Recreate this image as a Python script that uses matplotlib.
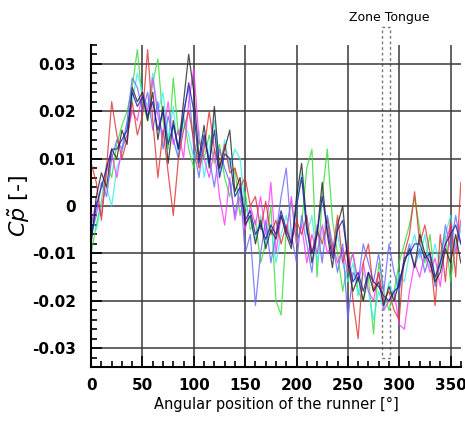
import numpy as np
import matplotlib.pyplot as plt
from matplotlib.patches import Rectangle
from matplotlib.ticker import MultipleLocator

# angular position [deg], one value every 5 deg
angle = np.arange(0, 361, 5)

cp_black = [-0.008, 0.002, 0.007, 0.004, 0.012, 0.010, 0.016, 0.013, 0.025, 0.022,
            0.024, 0.018, 0.024, 0.014, 0.021, 0.009, 0.018, 0.012, 0.022, 0.032,
            0.024, 0.010, 0.017, 0.008, 0.021, 0.008, 0.012, 0.016, 0.003, 0.006,
            -0.004, -0.002, -0.008, -0.003, -0.009, -0.005, -0.007, -0.002, -0.006, -0.009,
            0.002, 0.009, -0.004, -0.012, -0.006, 0.005, -0.006, -0.013, -0.004, 0.000,
            -0.012, -0.018, -0.015, -0.020, -0.014, -0.018, -0.016, -0.021, -0.017, -0.020,
            -0.016, -0.012, -0.009, -0.013, -0.006, -0.010, -0.012, -0.016, -0.014, -0.009,
            -0.012, -0.006, -0.012]
cp_red = [0.009, 0.005, -0.003, 0.008, 0.022, 0.015, 0.010, 0.014, 0.022, 0.015,
          0.019, 0.033, 0.018, 0.006, 0.016, 0.007, -0.002, 0.010, 0.016, 0.020,
          0.014, 0.008, 0.012, 0.020, 0.012, 0.008, 0.013, 0.007, 0.008, 0.004,
          0.006, 0.000, 0.002, -0.005, 0.001, -0.006, -0.003, -0.008, -0.004, -0.008,
          -0.003, -0.006, -0.002, -0.010, -0.005, -0.008, -0.003, -0.010, -0.002, -0.012,
          -0.008, -0.020, -0.028, -0.012, -0.008, -0.018, -0.014, -0.020, -0.018, -0.022,
          -0.024, -0.010, -0.006, 0.003, -0.008, -0.004, -0.010, -0.021, -0.006, -0.016,
          -0.003, -0.015, 0.005]
cp_green = [-0.010, -0.004, 0.001, 0.009, 0.006, 0.013, 0.017, 0.020, 0.025, 0.033,
            0.022, 0.018, 0.026, 0.031, 0.018, 0.012, 0.027, 0.015, 0.019, 0.012,
            0.008, 0.014, 0.010, 0.015, 0.009, 0.013, 0.006, 0.002, 0.008, -0.002,
            0.003, -0.005, -0.003, -0.012, -0.008, 0.000, -0.020, -0.023, -0.005, 0.001,
            -0.008, -0.004, 0.008, 0.012, -0.015, 0.002, 0.012, -0.003, -0.010, -0.018,
            -0.012, -0.010, -0.018, -0.020, -0.015, -0.027, -0.012, -0.018, -0.022, -0.018,
            -0.012, -0.008, -0.004, 0.002, -0.005, -0.012, -0.006, -0.016, -0.010, -0.006,
            -0.016, -0.008, -0.004]
cp_blue = [-0.006, -0.002, 0.005, 0.002, 0.010, 0.014, 0.012, 0.018, 0.027, 0.025,
           0.020, 0.024, 0.016, 0.022, 0.012, 0.019, 0.014, 0.010, 0.020, 0.025,
           0.012, 0.006, 0.014, 0.010, 0.004, 0.012, 0.008, 0.005, -0.002, 0.004,
           -0.010, -0.006, -0.021, -0.010, -0.003, -0.012, -0.006, 0.002, 0.008, -0.006,
           -0.012, -0.002, -0.008, -0.014, -0.004, -0.012, -0.002, -0.008, -0.014, -0.008,
           -0.024, -0.014, -0.016, -0.008, -0.012, -0.016, -0.010, -0.018, -0.008, -0.014,
           -0.018, -0.012, -0.008, -0.013, -0.009, -0.014, -0.010, -0.017, -0.012, -0.004,
           -0.009, -0.002, -0.008]
cp_magenta = [-0.004, 0.001, -0.002, 0.007, 0.011, 0.006, 0.012, 0.015, 0.020, 0.018,
              0.024, 0.020, 0.027, 0.019, 0.015, 0.022, 0.013, 0.016, 0.010, 0.022,
              0.029, 0.014, 0.010, 0.006, 0.012, 0.002, -0.004, 0.006, -0.003, 0.002,
              -0.005, 0.000, -0.004, 0.002, -0.006, 0.005, -0.010, -0.002, -0.006, 0.002,
              -0.008, -0.004, -0.012, -0.006, -0.010, -0.004, -0.010, -0.008, -0.012, -0.009,
              -0.014, -0.010, -0.016, -0.012, -0.018, -0.020, -0.014, -0.022, -0.020, -0.018,
              -0.025, -0.026, -0.018, -0.012, -0.015, -0.010, -0.014, -0.011, -0.017, -0.008,
              -0.004, -0.010, -0.003]
cp_cyan = [-0.002, -0.005, 0.000, 0.004, 0.000, 0.008, 0.011, 0.017, 0.022, 0.028,
           0.024, 0.021, 0.028, 0.020, 0.024, 0.014, 0.021, 0.010, 0.018, 0.015,
           0.010, 0.016, 0.006, 0.012, 0.018, 0.007, 0.014, 0.008, 0.012, 0.010,
           0.000, -0.003, -0.007, -0.002, -0.008, -0.004, -0.012, -0.006, -0.002, -0.008,
           0.000, 0.007, -0.006, -0.002, -0.012, -0.006, -0.002, -0.010, -0.006, -0.012,
           -0.016, -0.012, -0.019, -0.014, -0.018, -0.024, -0.018, -0.022, -0.016, -0.019,
           -0.014, -0.016, -0.010, -0.006, -0.011, -0.006, -0.013, -0.008, -0.013, -0.006,
           -0.002, -0.009, -0.005]
cp_navy = [-0.007, 0.000, 0.004, 0.008, 0.012, 0.012, 0.014, 0.016, 0.024, 0.021,
           0.023, 0.019, 0.022, 0.016, 0.020, 0.013, 0.017, 0.012, 0.019, 0.026,
           0.020, 0.009, 0.015, 0.009, 0.016, 0.006, 0.011, 0.010, 0.002, 0.004,
           -0.003, -0.001, -0.006, -0.004, -0.007, -0.004, -0.006, -0.001, -0.005, -0.008,
           0.000, 0.006, -0.005, -0.010, -0.006, 0.002, -0.005, -0.011, -0.005, -0.003,
           -0.011, -0.016, -0.014, -0.018, -0.014, -0.016, -0.017, -0.019, -0.020, -0.018,
           -0.017, -0.011, -0.010, -0.008, -0.008, -0.011, -0.010, -0.015, -0.012, -0.008,
           -0.006, -0.004, -0.008]

series = [
    (cp_green, "#33dd33"),
    (cp_cyan, "#33eeee"),
    (cp_magenta, "#ff33ff"),
    (cp_blue, "#6666ff"),
    (cp_red, "#e03030"),
    (cp_black, "#222222"),
    (cp_navy, "#1a1aa0"),
]

fig = plt.figure(figsize=(4.65, 4.23), dpi=100)
ax = fig.add_axes([0.196, 0.132, 0.795, 0.762])

for vals, col in series:
    ax.plot(angle, vals, color=col, lw=0.9, alpha=0.8)

ax.set_xlim(0, 360)
ax.set_ylim(-0.034, 0.034)
ax.xaxis.set_major_locator(MultipleLocator(50))
ax.xaxis.set_minor_locator(MultipleLocator(10))
ax.yaxis.set_minor_locator(MultipleLocator(0.002))
ax.set_yticks([-0.03, -0.02, -0.01, 0, 0.01, 0.02, 0.03])
ax.set_yticklabels(["-0.03", "-0.02", "-0.01", "0", "0.01", "0.02", "0.03"])

ax.grid(True, which="major", color="#3a3a3a", lw=1.3, alpha=0.85)
ax.tick_params(which="both", direction="in", labelsize=11, width=1.2)
ax.tick_params(which="major", length=8)
ax.tick_params(axis="y", which="major", pad=11)
ax.tick_params(axis="x", which="major", pad=8)
ax.tick_params(which="minor", length=4)
for lab in ax.get_xticklabels() + ax.get_yticklabels():
    lab.set_fontweight("bold")

ax.spines["top"].set_visible(False)
ax.spines["right"].set_visible(False)
ax.spines["left"].set_linewidth(1.5)
ax.spines["bottom"].set_linewidth(1.5)

ax.set_xlabel("Angular position of the runner [°]", fontsize=10.5, labelpad=3)
ax.set_ylabel(r"$C\tilde{p}$ [-]", fontsize=16, labelpad=0)

# tongue zone marker
rect = Rectangle((283, -0.032), 8, 0.0698, fill=False, ec="#777777",
                 ls=(0, (2, 2)), lw=1.0, clip_on=False)
ax.add_patch(rect)
ax.text(290, 0.0397, "Zone Tongue", ha="center", va="center", fontsize=9,
        clip_on=False)

plt.savefig("out.png", dpi=100)
